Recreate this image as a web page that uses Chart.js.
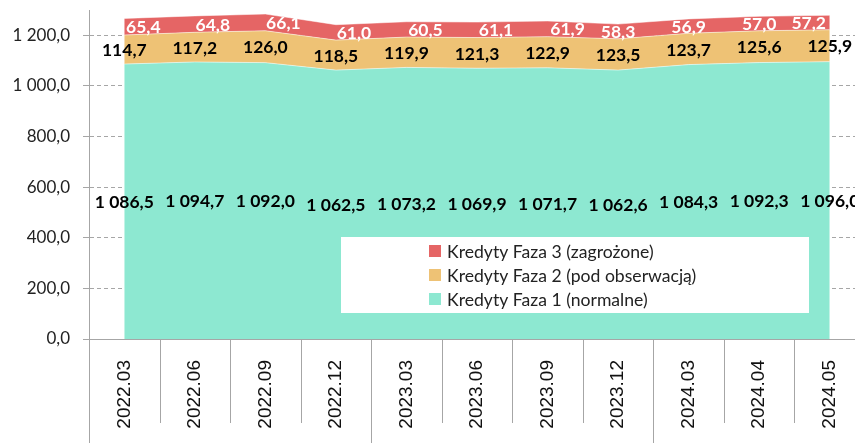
<!DOCTYPE html>
<html>
<head>
<meta charset="utf-8">
<script src="https://cdn.jsdelivr.net/npm/chart.js@4.4.1/dist/chart.umd.min.js"></script>
<style>
    html, body { margin: 0; padding: 0; background: #fff; overflow: hidden; }
    #wrap { position: relative; width: 866px; height: 443px; }
</style>
</head>
<body>
<div id="wrap"><canvas id="myChart"></canvas></div>
<script>
// data
var labels = ['2022.03', '2022.06', '2022.09', '2022.12', '2023.03', '2023.06',
    '2023.09', '2023.12', '2024.03', '2024.04', '2024.05'];
var faza1 = [1086.5, 1094.7, 1092.0, 1062.5, 1073.2, 1069.9, 1071.7, 1062.6, 1084.3, 1092.3, 1096.0];
var faza2 = [114.7, 117.2, 126.0, 118.5, 119.9, 121.3, 122.9, 123.5, 123.7, 125.6, 125.9];
var faza3 = [65.4, 64.8, 66.1, 61.0, 60.5, 61.1, 61.9, 58.3, 56.9, 57.0, 57.2];
var yTicks = [0, 200, 400, 600, 800, 1000, 1200];
var yearStarts = [4, 8]; // first category of a new year

var axisGray = '#A6A6A6';
// the red band labels were nudged sideways in the original
var redShift = [19, 18, 18, 18, 19, 19, 20, 0, 0, 0, -21];

function fmt(v) {
    var parts = v.toFixed(1).split('.');
    var whole = parts[0].replace(/\B(?=(\d{3})+(?!\d))/g, ' ');
    return whole + ',' + parts[1];
}

// value labels in the middle of each band + legend box
var bandLabels = {
    id: 'bandLabels',
    afterDatasetsDraw: function (chart) {
        var ctx = chart.ctx;
        var y = chart.scales.y;
        var sets = chart.data.datasets;
        ctx.save();
        ctx.textAlign = 'center';
        ctx.textBaseline = 'middle';
        ctx.font = 'bold 17.5px Lato';
        sets.forEach(function (ds, di) {
            var meta = chart.getDatasetMeta(di);
            meta.data.forEach(function (pt, i) {
                var base = 0;
                for (var k = 0; k < di; k++) base += sets[k].data[i];
                var py = y.getPixelForValue(base + ds.data[i] / 2);
                var dx = di === 2 ? redShift[i] : 0;
                ctx.fillStyle = ds.labelColor;
                ctx.fillText(fmt(ds.data[i]), pt.x + dx, py + 1);
            });
        });

        // legend
        ctx.fillStyle = '#fff';
        ctx.fillRect(341, 237, 468, 76);
        ctx.textAlign = 'left';
        ctx.font = '17.6px Lato';
        for (var j = sets.length - 1, row = 0; j >= 0; j--, row++) {
            var ly = 251 + row * 24;
            ctx.fillStyle = sets[j].backgroundColor;
            ctx.fillRect(429, ly - 6, 12, 12);
            ctx.fillStyle = '#222';
            ctx.fillText(sets[j].label, 447, ly + 1);
        }
        ctx.restore();
    }
};

// category separators under the x axis
var axisFrame = {
    id: 'axisFrame',
    afterDraw: function (chart) {
        var ctx = chart.ctx;
        var xs = chart.scales.x;
        var area = chart.chartArea;
        var half = (xs.getPixelForValue(1) - xs.getPixelForValue(0)) / 2;
        ctx.save();
        ctx.strokeStyle = axisGray;
        ctx.lineWidth = 1;
        ctx.beginPath();
        ctx.moveTo(area.left + 0.5, area.bottom);
        ctx.lineTo(area.left + 0.5, chart.height);
        for (var i = 1; i < labels.length; i++) {
            var x = Math.round(xs.getPixelForValue(i) - half) + 0.5;
            var end = yearStarts.indexOf(i) >= 0 ? chart.height : area.bottom + 84;
            ctx.moveTo(x, area.bottom);
            ctx.lineTo(x, end);
        }
        ctx.stroke();
        ctx.restore();
    }
};

function noPad(scale) {
    scale.paddingTop = 0;
    scale.paddingBottom = 0;
    scale.paddingLeft = 0;
    scale.paddingRight = 0;
}

const data = {
    labels: labels,
    datasets: [{
        label: 'Kredyty Faza 1 (normalne)',
        data: faza1,
        backgroundColor: '#8DE8D1',
        borderColor: 'rgba(255,255,255,0.5)',
        labelColor: '#000',
        fill: 'origin'
    }, {
        label: 'Kredyty Faza 2 (pod obserwacją)',
        data: faza2,
        backgroundColor: '#EEC275',
        borderColor: 'rgba(255,255,255,0.5)',
        labelColor: '#000',
        fill: '-1'
    }, {
        label: 'Kredyty Faza 3 (zagrożone)',
        data: faza3,
        backgroundColor: '#E56565',
        borderColor: 'rgba(255,255,255,0.5)',
        labelColor: '#fff',
        fill: '-1'
    }]
};

const config = {
    type: 'line',
    data,
    options: {
        responsive: true,
        maintainAspectRatio: false,
        animation: false,
        layout: { padding: { top: 10, right: 1, bottom: 0, left: 0 } },
        elements: {
            line: { borderWidth: 1, tension: 0 },
            point: { radius: 0 }
        },
        plugins: {
            legend: { display: false },
            tooltip: { enabled: false }
        },
        scales: {
            x: {
                offset: true,
                grid: { display: false },
                border: { color: axisGray },
                ticks: {
                    minRotation: 90,
                    maxRotation: 90,
                    padding: 13,
                    color: '#111',
                    font: { family: 'Liberation Sans', size: 19 }
                },
                afterFit: function (scale) { scale.height = 104; noPad(scale); }
            },
            y: {
                stacked: true,
                min: 0,
                max: 1300,
                afterBuildTicks: function (scale) {
                    scale.ticks = yTicks.map(function (v) { return { value: v }; });
                },
                grid: { color: axisGray, tickLength: 6, tickBorderDash: [] },
                border: { color: axisGray, dash: [4, 3] },
                ticks: {
                    padding: 13,
                    color: '#222',
                    font: { family: 'Lato', size: 17 },
                    callback: function (v) { return fmt(v); }
                },
                afterFit: function (scale) { scale.width = 89; noPad(scale); }
            }
        }
    },
    plugins: [bandLabels, axisFrame]
};

var myChart = new Chart(document.getElementById('myChart'), config);
</script>
</body>
</html>
